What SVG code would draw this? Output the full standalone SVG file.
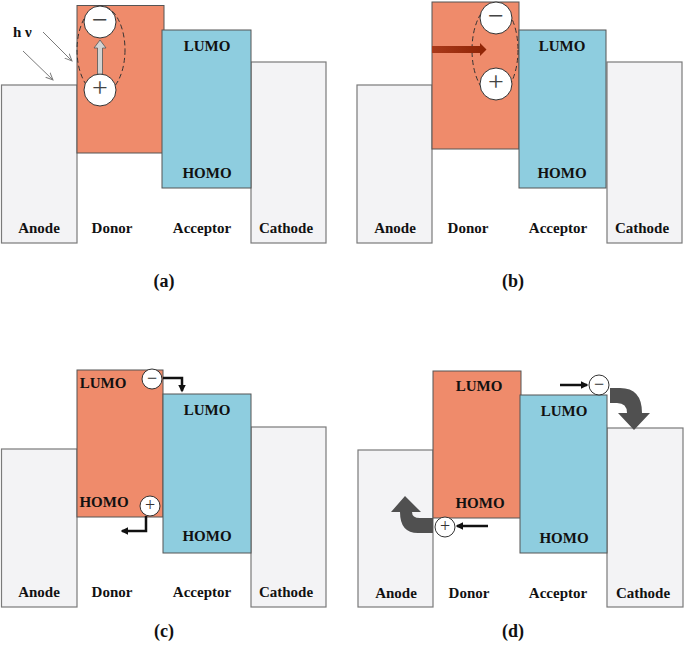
<svg xmlns="http://www.w3.org/2000/svg" width="685" height="650" viewBox="0 0 685 650">
<style>
.el{fill:#f3f3f5;stroke:#7a7a7a;stroke-width:1.2}
.don{fill:#ef8b6b;stroke:#555;stroke-width:1}
.acc{fill:#8ecddf;stroke:#555;stroke-width:1}
.lb{font-family:"Liberation Serif","Times New Roman",serif;font-weight:bold;font-size:15px;fill:#111;text-anchor:middle}
.pl{font-family:"Liberation Serif","Times New Roman",serif;font-weight:bold;font-size:18px;fill:#111;text-anchor:middle}
.cir{fill:#fff;stroke:#333;stroke-width:1}
.sgL{font-family:"Liberation Serif","Times New Roman",serif;font-size:28px;fill:#444;text-anchor:middle}
.sgS{font-family:"Liberation Serif","Times New Roman",serif;font-size:18px;fill:#333;text-anchor:middle}
.blk{fill:none;stroke:#111;stroke-width:2.5;marker-end:url(#mb)}
.gry{fill:none;stroke:#7a7a7a;stroke-width:1;marker-end:url(#mg)}
.ell{fill:none;stroke:#333;stroke-width:1;stroke-dasharray:5 3}
.big{fill:#505050}
</style>
<defs>
<marker id="mb" viewBox="0 0 10 10" refX="8" refY="5" markerWidth="3" markerHeight="3" orient="auto" markerUnits="strokeWidth">
<path d="M0,0 L10,5 L0,10 z" fill="#111"/>
</marker>
<marker id="mg" viewBox="0 0 10 10" refX="9" refY="5" markerWidth="8" markerHeight="8" orient="auto" markerUnits="strokeWidth">
<path d="M0,1 L9,5 L0,9" fill="none" stroke="#7a7a7a" stroke-width="1.2"/>
</marker>
<linearGradient id="rg" x1="0" y1="0" x2="1" y2="0">
<stop offset="0" stop-color="#a9391a"/>
<stop offset="1" stop-color="#8e2405"/>
</linearGradient>
</defs>

<!-- Panel (a) -->
<g id="a-anode"><rect class="el" x="1.5" y="85" width="75.5" height="158"/><text class="lb" x="39" y="233">Anode</text></g>
<g id="a-cathode"><rect class="el" x="251" y="62" width="75" height="181"/><text class="lb" x="286" y="233">Cathode</text></g>
<g id="a-donor"><rect class="don" x="77" y="5.5" width="87" height="147.5"/><text class="lb" x="112" y="233">Donor</text></g>
<g id="a-acceptor"><rect class="acc" x="162" y="30" width="89" height="158"/><text class="lb" x="207" y="51">LUMO</text><text class="lb" x="207" y="178">HOMO</text><text class="lb" x="202" y="233">Acceptor</text></g>
<g id="a-exciton">
<ellipse class="ell" cx="101" cy="50" rx="24" ry="44"/>
<circle class="cir" cx="100" cy="22" r="16"/><text class="sgL" x="100" y="29">−</text>
<circle class="cir" cx="100" cy="90" r="16"/><text class="sgL" x="100" y="97">+</text>
</g>
<g id="a-light"><text x="13" y="37" style="font-family:'Liberation Serif','Times New Roman',serif;font-weight:bold;font-size:15px;fill:#111">h ν</text></g>
<text class="pl" x="164" y="287">(a)</text>

<!-- Panel (b) -->
<g id="b-anode"><rect class="el" x="357" y="85" width="75" height="158"/><text class="lb" x="395" y="233">Anode</text></g>
<g id="b-cathode"><rect class="el" x="607" y="62" width="75" height="181"/><text class="lb" x="642" y="233">Cathode</text></g>
<g id="b-donor"><rect class="don" x="432" y="2" width="87" height="147"/><text class="lb" x="468" y="233">Donor</text></g>
<g id="b-acceptor"><rect class="acc" x="519" y="30" width="87" height="158"/><text class="lb" x="562" y="51">LUMO</text><text class="lb" x="562" y="178">HOMO</text><text class="lb" x="558" y="233">Acceptor</text></g>
<g id="b-exciton">
<ellipse class="ell" cx="495" cy="50" rx="23" ry="46"/>
<circle class="cir" cx="496" cy="18" r="16"/><text class="sgL" x="496" y="25">−</text>
<circle class="cir" cx="496" cy="84" r="16"/><text class="sgL" x="496" y="91">+</text>
</g>
<text class="pl" x="513" y="287">(b)</text>

<!-- Panel (c) -->
<g id="c-anode"><rect class="el" x="1.5" y="449" width="75.5" height="158"/><text class="lb" x="39" y="597">Anode</text></g>
<g id="c-cathode"><rect class="el" x="251" y="427" width="75" height="180"/><text class="lb" x="286" y="597">Cathode</text></g>
<g id="c-donor"><rect class="don" x="77" y="370" width="86" height="147"/><text class="lb" x="103" y="388">LUMO</text><text class="lb" x="104" y="507">HOMO</text><text class="lb" x="112" y="597">Donor</text></g>
<g id="c-acceptor"><rect class="acc" x="163" y="394" width="88" height="159"/><text class="lb" x="207" y="415">LUMO</text><text class="lb" x="207" y="541">HOMO</text><text class="lb" x="202" y="597">Acceptor</text></g>
<g id="c-electron"><circle class="cir" cx="152" cy="379" r="10"/><text class="sgS" x="152" y="383.5">−</text></g>
<g id="c-hole"><circle class="cir" cx="150" cy="506" r="10"/><text class="sgS" x="150" y="510.5">+</text></g>
<text class="pl" x="164" y="637">(c)</text>

<!-- Panel (d) -->
<g id="d-anode"><rect class="el" x="358" y="450" width="75" height="157"/><text class="lb" x="396" y="598">Anode</text></g>
<g id="d-cathode"><rect class="el" x="607" y="428" width="76" height="179"/><text class="lb" x="643" y="598">Cathode</text></g>
<g id="d-donor"><rect class="don" x="433" y="371" width="88" height="147"/><text class="lb" x="479" y="391">LUMO</text><text class="lb" x="480" y="508">HOMO</text><text class="lb" x="469" y="598">Donor</text></g>
<g id="d-acceptor"><rect class="acc" x="520" y="395" width="87" height="158"/><text class="lb" x="564" y="416">LUMO</text><text class="lb" x="564" y="543">HOMO</text><text class="lb" x="558" y="598">Acceptor</text></g>
<g id="d-electron"><circle class="cir" cx="599" cy="385" r="10"/><text class="sgS" x="599" y="389.5">−</text></g>
<g id="d-hole"><circle class="cir" cx="445" cy="527" r="10"/><text class="sgS" x="445" y="531.5">+</text></g>
<text class="pl" x="513" y="637">(d)</text>

<!-- Connectors -->
<g id="connectors">
<path class="gry" d="M43,32 L72,61"/>
<path class="gry" d="M23,51 L53,80"/>
<path d="M97.5,74 L97.5,48 L94,48 L100,40 L106,48 L102.5,48 L102.5,74 Z" fill="#d3d3d3" stroke="#555" stroke-width="0.8"/>
<path d="M432,46 L480,46 L480,43 L486.5,49.5 L480,56 L480,53 L432,53 Z" fill="url(#rg)"/>
<path class="blk" d="M163,378 H182 V391"/>
<path class="blk" d="M146,516 V531 H122"/>
<path class="blk" d="M560,385 H587"/>
<path class="blk" d="M488,526 H457"/>
<path class="big" d="M610,388 L620,388 Q642,388 642,413 L650,413 L634,430 L618,413 L627,413 Q627,403 617,403 L610,403 Z"/>
<path class="big" d="M405,496 L421,512 L412,512 Q412,518 420,518 L433,518 L433,533 L418,533 Q400,533 400,512 L391,512 Z"/>
</g>
</svg>
